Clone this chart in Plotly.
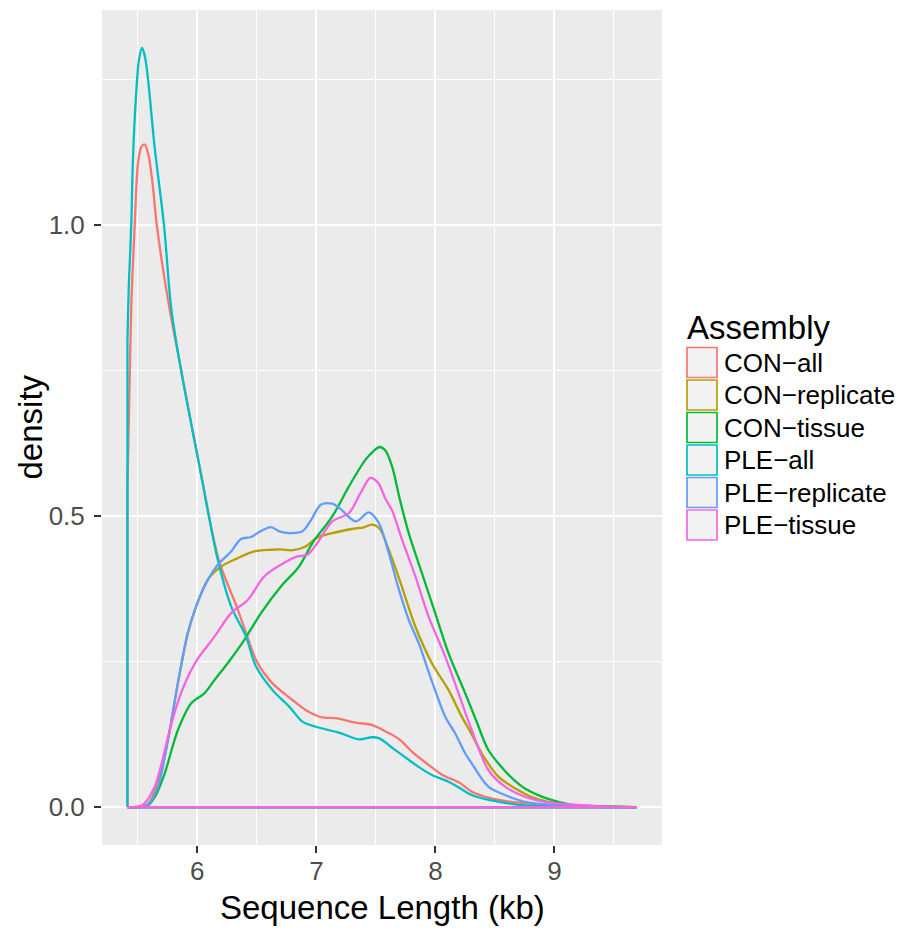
import plotly.graph_objects as go

# ---------------- data ----------------
series_names = ["CON−all", "CON−replicate", "CON−tissue", "PLE−all", "PLE−replicate", "PLE−tissue"]
series_colors = ["#F8766D", "#B79F00", "#00BA38", "#00BFC4", "#619CFF", "#F564E3"]

con_all_x = [5.413, 5.43, 5.447, 5.474, 5.502, 5.53, 5.558, 5.59, 5.625, 5.66, 5.753, 5.87, 6.02, 6.18,
             6.33, 6.42, 6.50, 6.63, 6.80, 6.91, 7.05, 7.16, 7.33, 7.47, 7.61, 7.70, 7.81, 7.94,
             8.06, 8.20, 8.31, 8.47, 8.64, 8.86, 9.14, 9.40, 9.69]
con_all_y = [0.55, 0.72, 0.873, 1.0, 1.108, 1.135, 1.139, 1.12, 1.07, 1.0, 0.873, 0.745, 0.584, 0.425,
             0.345, 0.293, 0.25, 0.213, 0.184, 0.167, 0.154, 0.153, 0.145, 0.141, 0.127, 0.116,
             0.094, 0.073, 0.055, 0.042, 0.026, 0.015, 0.009, 0.005, 0.0017, 0.0005, 0.0]

con_rep_x = [5.413, 5.50, 5.58, 5.669, 5.753, 5.837, 5.92, 5.99, 6.088, 6.2, 6.339, 6.479, 6.618,
             6.70, 6.80, 6.91, 7.0, 7.134, 7.301, 7.40, 7.469, 7.53, 7.608, 7.70, 7.832, 7.971,
             8.11, 8.222, 8.305, 8.389, 8.529, 8.669, 8.80, 8.947, 9.142, 9.40, 9.69]
con_rep_y = [0.0, 0.0, 0.004, 0.04, 0.115, 0.213, 0.299, 0.345, 0.391, 0.4136, 0.428, 0.4394, 0.4423,
             0.443, 0.4415, 0.448, 0.4625, 0.471, 0.478, 0.481, 0.4854, 0.479, 0.4423, 0.39, 0.31,
             0.2473, 0.2014, 0.1554, 0.125, 0.0924, 0.0522, 0.0322, 0.018, 0.009, 0.003, 0.0006, 0.0]

con_tis_x = [5.413, 5.50, 5.586, 5.65, 5.726, 5.837, 5.949, 6.06, 6.15, 6.255, 6.395, 6.535, 6.702,
             6.855, 6.967, 7.134, 7.274, 7.413, 7.48, 7.53, 7.58, 7.636, 7.70, 7.776, 7.887, 7.999,
             8.11, 8.25, 8.35, 8.445, 8.585, 8.669, 8.752, 8.947, 9.142, 9.365, 9.69]
con_tis_y = [0.0, 0.0, 0.003, 0.02, 0.058, 0.1325, 0.1785, 0.1957, 0.22, 0.2473, 0.2874, 0.3334, 0.3792,
             0.4136, 0.4539, 0.4997, 0.5513, 0.5972, 0.612, 0.619, 0.613, 0.5857, 0.53, 0.471, 0.402,
             0.333, 0.2645, 0.1958, 0.145, 0.098, 0.062, 0.045, 0.032, 0.014, 0.004, 0.0017, 0.0]

ple_all_x = [5.413, 5.425, 5.445, 5.458, 5.485, 5.51, 5.536, 5.56, 5.586, 5.64, 5.72, 5.782, 5.865,
             6.018, 6.172, 6.284, 6.409, 6.493, 6.632, 6.772, 6.883, 6.995, 7.19, 7.357, 7.469, 7.53,
             7.636, 7.75, 7.859, 7.971, 8.11, 8.194, 8.305, 8.43, 8.529, 8.721, 9.003, 9.30, 9.69]
ple_all_y = [0.80, 0.90, 1.0, 1.108, 1.2226, 1.285, 1.305, 1.29, 1.251, 1.137, 1.0, 0.855, 0.749,
             0.586, 0.425, 0.345, 0.293, 0.2415, 0.201, 0.1726, 0.1468, 0.138, 0.128, 0.1165, 0.12, 0.118,
             0.102, 0.085, 0.069, 0.055, 0.0436, 0.034, 0.0207, 0.013, 0.0091, 0.0034, 0.0012, 0.0003, 0.0]

ple_rep_x = [5.413, 5.50, 5.586, 5.669, 5.753, 5.837, 5.92, 5.99, 6.074, 6.172, 6.284, 6.367, 6.451,
             6.53, 6.618, 6.69, 6.772, 6.883, 6.96, 7.037, 7.134, 7.2, 7.33, 7.441, 7.525, 7.608, 7.692,
             7.776, 7.86, 7.971, 8.083, 8.166, 8.25, 8.305, 8.445, 8.585, 8.752, 9.003, 9.30, 9.69]
ple_rep_y = [0.0, 0.0, 0.004, 0.035, 0.115, 0.213, 0.299, 0.345, 0.385, 0.4165, 0.4394, 0.4608, 0.4642,
             0.474, 0.4814, 0.474, 0.471, 0.474, 0.495, 0.5198, 0.5215, 0.513, 0.491, 0.5065, 0.4883,
             0.4367, 0.375, 0.322, 0.2817, 0.216, 0.1554, 0.1268, 0.0924, 0.0752, 0.035, 0.0207, 0.0091,
             0.0034, 0.0008, 0.0]

ple_tis_x = [5.413, 5.46, 5.544, 5.642, 5.70, 5.753, 5.81, 5.865, 5.93, 6.004, 6.144, 6.284, 6.423,
             6.562, 6.702, 6.841, 6.925, 7.008, 7.134, 7.274, 7.371, 7.455, 7.52, 7.58, 7.636, 7.72,
             7.832, 7.943, 8.083, 8.194, 8.305, 8.445, 8.585, 8.752, 8.947, 9.226, 9.45, 9.69]
ple_tis_y = [0.0, 0.0, 0.004, 0.035, 0.075, 0.12, 0.163, 0.197, 0.228, 0.255, 0.293, 0.3334, 0.356,
             0.3964, 0.4165, 0.4308, 0.4337, 0.4539, 0.491, 0.5055, 0.54, 0.5657, 0.557, 0.53, 0.51,
             0.4596, 0.3964, 0.3275, 0.2587, 0.1957, 0.1325, 0.0637, 0.035, 0.0177, 0.008, 0.0034,
             0.0008, 0.0]

x_tick_vals = [6, 7, 8, 9]
y_tick_vals = [0.0, 0.5, 1.0]
y_tick_text = ["0.0", "0.5", "1.0"]
x_title = "Sequence Length (kb)"
y_title = "density"
legend_title = "Assembly"

series_x = [con_all_x, con_rep_x, con_tis_x, ple_all_x, ple_rep_x, ple_tis_x]
series_y = [con_all_y, con_rep_y, con_tis_y, ple_all_y, ple_rep_y, ple_tis_y]

# ---------------- figure ----------------
W, H = 901, 932
ML, MR, MT, MB = 102, 239, 10, 87
FONT = "Liberation Sans, Arial, Helvetica, sans-serif"
LW = 2.3


def px_x(px):
    return (px - ML) / (W - ML - MR)


def px_y(py):
    return (H - MB - py) / (H - MT - MB)


fig = go.Figure()
for name, col, xs, ys in zip(series_names, series_colors, series_x, series_y):
    # closing edges of the density polygon (vertical ends + baseline)
    fig.add_trace(go.Scatter(
        x=[xs[0], xs[0], None, xs[-1], xs[-1], xs[0]],
        y=[0, ys[0], None, ys[-1], 0, 0],
        mode="lines", line=dict(color=col, width=LW), showlegend=False,
        hoverinfo="skip"))
    fig.add_trace(go.Scatter(
        x=xs, y=ys, mode="lines", name=name,
        line=dict(color=col, width=LW, shape="spline", smoothing=0.9),
        showlegend=False))

xmin = min(min(v) for v in series_x)
xmax = max(max(v) for v in series_x)
ymax = max(max(v) for v in series_y)
xpad = 0.05 * (xmax - xmin)
ypad = 0.05 * ymax

axis_common = dict(
    showline=False, zeroline=False,
    showgrid=True, gridcolor="#FFFFFF", gridwidth=1.7,
    ticks="outside", ticklen=7, tickwidth=1.5, tickcolor="#333333",
    tickfont=dict(family=FONT, size=26, color="#4D4D4D"),
)

fig.update_xaxes(
    range=[xmin - xpad, xmax + xpad], tickvals=x_tick_vals,
    ticklabelstandoff=-4,
    minor=dict(tick0=5.5, dtick=1, showgrid=True, gridcolor="#FFFFFF", gridwidth=0.9, ticks=""),
    **axis_common)
fig.update_yaxes(
    range=[-ypad, ymax + ypad], tickvals=y_tick_vals, ticktext=y_tick_text,
    ticklabelstandoff=4,
    minor=dict(tick0=0.25, dtick=0.5, showgrid=True, gridcolor="#FFFFFF", gridwidth=0.9, ticks=""),
    **axis_common)

annotations = [
    dict(text=x_title, x=0.5, y=px_y(907), xref="paper", yref="paper",
         xanchor="center", yanchor="middle", showarrow=False,
         font=dict(family=FONT, size=33, color="#000000")),
    dict(text=y_title, x=px_x(30), y=0.5, xref="paper", yref="paper",
         xanchor="center", yanchor="middle", textangle=-90, showarrow=False,
         font=dict(family=FONT, size=33, color="#000000")),
    dict(text=legend_title, x=px_x(685), y=px_y(328), xref="paper", yref="paper",
         xanchor="left", yanchor="middle", showarrow=False,
         font=dict(family=FONT, size=33, color="#000000")),
]
shapes = []
key_top0, key_step, key_size = 347.5, 32.5, 30
for i, (name, col) in enumerate(zip(series_names, series_colors)):
    top = key_top0 + i * key_step
    shapes.append(dict(type="rect", xref="paper", yref="paper",
                       x0=px_x(687), x1=px_x(687 + key_size),
                       y0=px_y(top + key_size), y1=px_y(top),
                       line=dict(color=col, width=1.7), fillcolor="#F2F2F2"))
    annotations.append(dict(text=name, x=px_x(722), y=px_y(top + key_size / 2),
                            xref="paper", yref="paper", xanchor="left", yanchor="middle",
                            showarrow=False, font=dict(family=FONT, size=26, color="#000000")))

fig.update_layout(
    width=W, height=H,
    margin=dict(l=ML, r=MR, t=MT, b=MB, autoexpand=False),
    paper_bgcolor="#FFFFFF", plot_bgcolor="#EBEBEB",
    showlegend=False,
    annotations=annotations, shapes=shapes,
)

fig.write_html("out.html")
